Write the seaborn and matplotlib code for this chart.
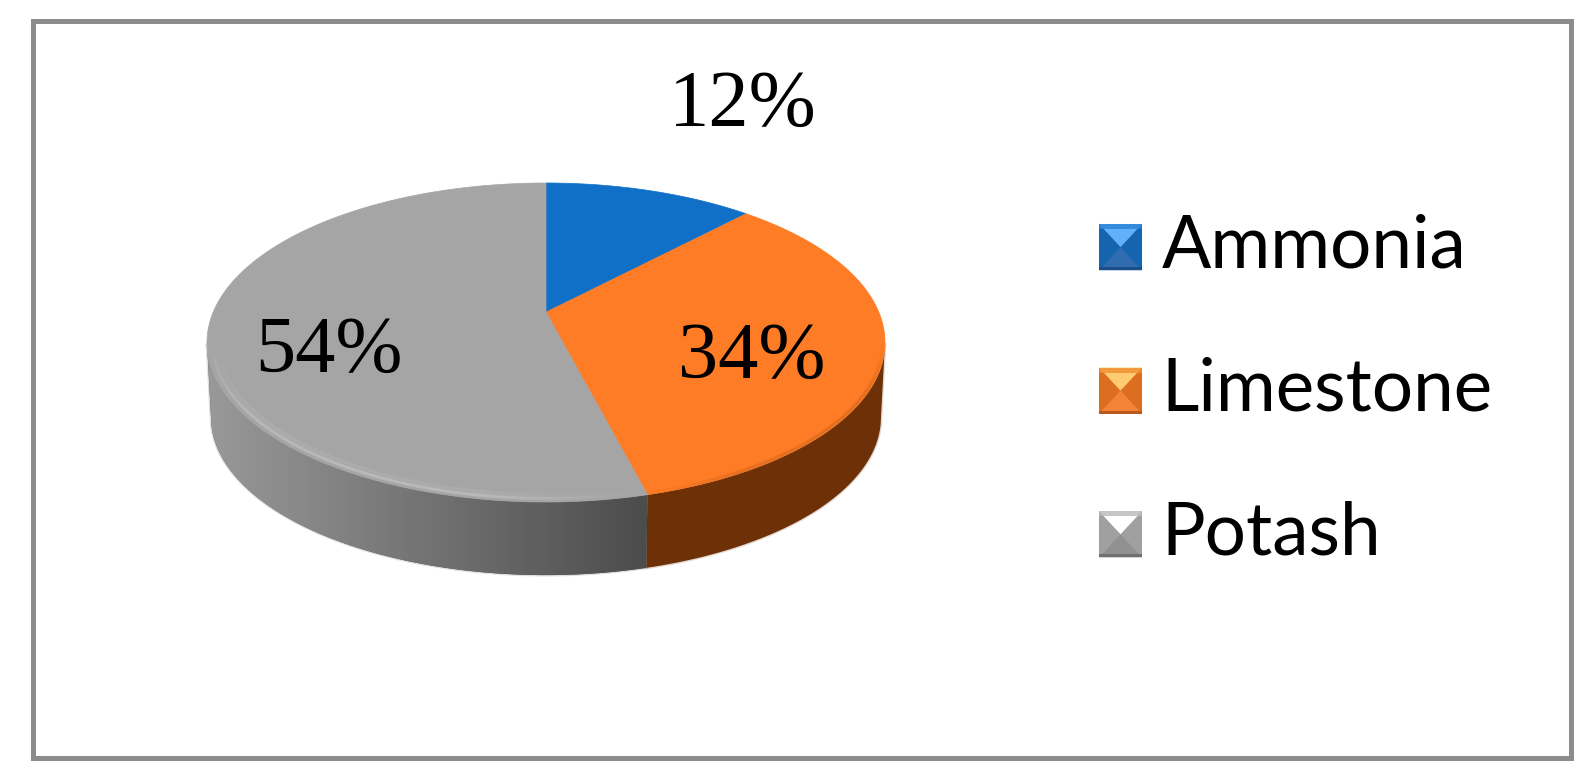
import matplotlib
matplotlib.use("Agg")
import matplotlib.pyplot as plt
import numpy as np
import seaborn as sns
from matplotlib.collections import LineCollection
from matplotlib.colors import LinearSegmentedColormap, to_rgb
from matplotlib.legend_handler import HandlerBase
from matplotlib.patches import Patch, PathPatch, Polygon, Rectangle
from matplotlib.path import Path

# Chart data
categories = ["Ammonia", "Limestone", "Potash"]
shares = [12, 34, 54]

# Colours
face_colors = ["#1070C8", "#FE7C25", "#A5A5A5"]
wall_colors = ["#0A4478", "#6E3006", "#505050"]
key_sides = ["#1464B0", "#DC6E20", "#A0A0A0"]
key_top = ["#62B0FA", "#FFCB70", "#FFFFFF"]
key_strip_top = ["#2A82D8", "#F09030", "#B8B8B8"]
key_bottom = ["#2F6CB0", "#F5843A", "#919191"]
key_strip_bottom = ["#1A4F8A", "#B85A1A", "#707070"]

# Geometry of the tilted disc, in pixels
CX, CY, RX, RY = 546, 342.5, 339, 159.5
TILT = 0.19
DEPTH = 75
SHRINK = 0.988
W, H = 1593, 781

label_pos = [(743, 106), (752, 358), (329, 352)]


def project(theta_deg, radius=1.0):
    """Perspective view of points on the pie, returned in pixels."""
    t = np.radians(theta_deg)
    x, y = radius * np.cos(t), radius * np.sin(t)
    d = 1 + TILT * y
    return CX + RX * x * np.sqrt(1 - TILT ** 2) / d, CY - RY * (y + TILT) / d


def apex():
    return CX, CY - RY * TILT


def fading_rim(angles, radius, color, lw, peak):
    """Rim line that fades out towards both of its ends."""
    rx_, ry_ = project(angles, radius)
    pts = np.column_stack([rx_, ry_])
    segs = np.stack([pts[:-1], pts[1:]], axis=1)
    t = np.linspace(0, 1, len(segs))
    rgba = np.zeros((len(segs), 4))
    rgba[:, :3] = to_rgb(color)
    rgba[:, 3] = peak * np.minimum(1, 4 * np.minimum(t, 1 - t))
    ax.add_collection(LineCollection(segs, colors=rgba, linewidths=lw, zorder=3.5, capstyle="butt"))


class BevelHandler(HandlerBase):
    """Legend key drawn as a bevelled square."""

    def create_artists(self, legend, orig_handle, xdescent, ydescent, width, height, fontsize, trans):
        i = categories.index(orig_handle.get_label())
        x0, y0 = -xdescent, -ydescent - fontsize * 0.08
        x1, y1 = x0 + width, y0 + height
        xm, ym = (x0 + x1) / 2, (y0 + y1) / 2
        s = height * 0.07
        parts = [
            Rectangle((x0, y0), width, height, fc=key_sides[i], ec="none"),
            Polygon([(x0, y1), (x1, y1), (xm, ym)], fc=key_top[i], ec="none"),
            Polygon([(x0, y0), (x1, y0), (xm, ym)], fc=key_bottom[i], ec="none"),
            Rectangle((x0, y1 - s * 1.6), width, s * 1.6, fc=key_strip_top[i], ec="none", alpha=0.8),
            Rectangle((x0, y0), width, s, fc=key_strip_bottom[i], ec="none"),
        ]
        for p in parts:
            p.set_transform(trans)
        return parts


sns.set_theme(style="white")
fig = plt.figure(figsize=(W / 100, H / 100), dpi=100, facecolor="white")
ax = fig.add_axes([0, 0, 1, 1])

wedges, _, autotexts = ax.pie(
    shares,
    colors=face_colors,
    startangle=90,
    counterclock=False,
    autopct="%1.0f%%",
    textprops={"family": "Liberation Serif", "fontsize": 58, "color": "black"},
)
ax.set_aspect("auto")

gray_map = LinearSegmentedColormap.from_list("wall", ["#999999", "#4C4C4C"])

# Side wall first, only the front part of the disc shows one
for i, wedge in enumerate(wedges):
    angles = np.linspace(wedge.theta1, wedge.theta2, 400)
    px, py = project(angles)
    keep = py >= CY
    if not keep.any():
        continue
    px, py = px[keep], py[keep]
    low_x = CX + (px - CX) * SHRINK
    low_y = CY + DEPTH + (py - CY) * SHRINK
    outline = np.column_stack([np.r_[px, low_x[::-1]], np.r_[py, low_y[::-1]]])
    ax.add_patch(Polygon(outline, closed=True, fc="none", ec=wall_colors[i], lw=2, alpha=0.18, zorder=1))
    shape = Polygon(outline, closed=True, fc=wall_colors[i], ec="none", zorder=2)
    ax.add_patch(shape)
    if categories[i] == "Potash":
        shade = np.linspace(0, 1, 256).reshape(1, -1)
        img = ax.imshow(shade, cmap=gray_map, aspect="auto", zorder=2.5,
                        extent=[outline[:, 0].min(), outline[:, 0].max(), H, 0])
        img.set_clip_path(shape)

# Top face with the perspective applied to each wedge from the pie
for i, wedge in enumerate(wedges):
    angles = np.linspace(wedge.theta1, wedge.theta2, 400)
    px, py = project(angles)
    ax_, ay_ = apex()
    verts = np.column_stack([np.r_[ax_, px, ax_], np.r_[ay_, py, ay_]])
    codes = [Path.MOVETO] + [Path.LINETO] * (len(verts) - 2) + [Path.CLOSEPOLY]
    ax.add_patch(PathPatch(Path(verts, codes), fc=face_colors[i], ec=face_colors[i], lw=0.5, zorder=3))
    wedge.remove()

    # soft rim along the front edge
    rim = angles[py >= CY]
    if len(rim) and categories[i] == "Potash":
        fading_rim(rim, 0.985, "#E4E4E4", 2, 0.30)
        fading_rim(rim, 0.972, "#E4E4E4", 4, 0.10)
    elif len(rim):
        fading_rim(rim, 0.994, "#B85A1A", 2.5, 0.35)

for txt, pos in zip(autotexts, label_pos):
    txt.set_position(pos)
    txt.set_zorder(5)
    txt.set_ha("center")
    txt.set_va("center")

# Outer frame
ax.add_patch(Rectangle((32.5, 20.5), 1538, 737.5, fc="none", ec="#8C8C8C", lw=3.6, zorder=6))

handles = [Patch(label=c) for c in categories]
leg = ax.legend(
    handles=handles,
    labels=categories,
    handler_map={Patch: BevelHandler()},
    loc="upper left",
    bbox_to_anchor=(1099 / W, 1 - 213 / H),
    bbox_transform=fig.transFigure,
    frameon=False,
    borderpad=0,
    borderaxespad=0,
    handlelength=0.59,
    handleheight=0.6,
    handletextpad=0.27,
    labelspacing=1.05,
    prop={"family": "Lato", "size": 52.5},
)
for t in leg.get_texts():
    t.set_color("black")

ax.set_xlim(0, W)
ax.set_ylim(H, 0)
ax.axis("off")

fig.savefig("out.png", dpi=100, facecolor="white")
